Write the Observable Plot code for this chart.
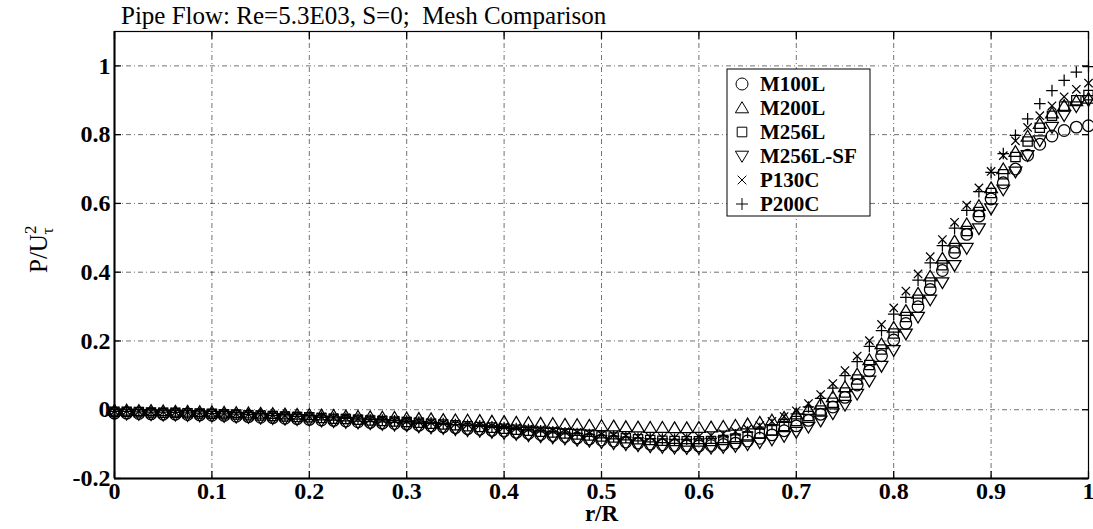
<!DOCTYPE html>
<html><head><meta charset="utf-8">
<script src="https://cdn.jsdelivr.net/npm/d3@7"></script>
<script src="https://cdn.jsdelivr.net/npm/@observablehq/plot@0.6"></script>
<style>body{margin:0;background:#fff;} #chart svg{display:block;background:#fff}</style>
</head><body><div id="chart"></div>
<script>
const titleText = "Pipe Flow: Re=5.3E03, S=0;\u00a0 Mesh Comparison";
const xLabel = "r/R";
const seriesNames = ["M100L", "M200L", "M256L", "M256L-SF", "P130C", "P200C"];
const xTicks = [0, 0.1, 0.2, 0.3, 0.4, 0.5, 0.6, 0.7, 0.8, 0.9, 1];
const xTickLabels = ["0", "0.1", "0.2", "0.3", "0.4", "0.5", "0.6", "0.7", "0.8", "0.9", "1"];
const yTicks = [-0.2, 0, 0.2, 0.4, 0.6, 0.8, 1];
const yTickLabels = ["-0.2", "0", "0.2", "0.4", "0.6", "0.8", "1"];

const r = [0,0.0125,0.025,0.0375,0.05,0.0625,0.075,0.0875,0.1,0.1125,0.125,0.1375,0.15,0.1625,0.175,0.1875,0.2,0.2125,0.225,0.2375,0.25,0.2625,0.275,0.2875,0.3,0.3125,0.325,0.3375,0.35,0.3625,0.375,0.3875,0.4,0.4125,0.425,0.4375,0.45,0.4625,0.475,0.4875,0.5,0.5125,0.525,0.5375,0.55,0.5625,0.575,0.5875,0.6,0.6125,0.625,0.6375,0.65,0.6625,0.675,0.6875,0.7,0.7125,0.725,0.7375,0.75,0.7625,0.775,0.7875,0.8,0.8125,0.825,0.8375,0.85,0.8625,0.875,0.8875,0.9,0.9125,0.925,0.9375,0.95,0.9625,0.975,0.9875,1];

const M100L = [-0.010,-0.010,-0.011,-0.012,-0.013,-0.013,-0.014,-0.015,-0.016,-0.017,-0.019,-0.020,-0.022,-0.023,-0.025,-0.026,-0.028,-0.030,-0.031,-0.033,-0.035,-0.037,-0.039,-0.040,-0.042,-0.045,-0.047,-0.050,-0.052,-0.055,-0.057,-0.060,-0.062,-0.066,-0.069,-0.072,-0.075,-0.078,-0.082,-0.085,-0.088,-0.091,-0.094,-0.097,-0.100,-0.102,-0.104,-0.105,
 -0.105,-0.104,-0.101,-0.097,-0.091,-0.083,-0.073,-0.061,-0.047,-0.031,-0.013,0.008,0.036,0.072,0.113,0.157,0.203,0.251,0.300,0.350,0.405,0.457,0.510,0.563,0.613,0.660,0.700,0.740,0.772,0.796,0.812,0.822,0.826];
const M200L = [-0.002,-0.002,-0.003,-0.003,-0.004,-0.005,-0.005,-0.006,-0.007,-0.008,-0.009,-0.010,-0.011,-0.012,-0.013,-0.014,-0.015,-0.016,-0.017,-0.019,-0.020,-0.021,-0.022,-0.023,-0.025,-0.026,-0.027,-0.029,-0.030,-0.031,-0.032,-0.034,-0.035,-0.037,-0.038,-0.040,-0.041,-0.043,-0.044,-0.046,-0.047,-0.048,-0.050,-0.051,-0.052,-0.052,-0.053,-0.053,
 -0.052,-0.051,-0.049,-0.046,-0.042,-0.037,-0.031,-0.023,-0.013,0.000,0.016,0.037,0.066,0.103,0.145,0.191,0.239,0.288,0.338,0.388,0.440,0.490,0.540,0.593,0.645,0.700,0.750,0.795,0.832,0.862,0.884,0.898,0.905];
const M256L = [-0.006,-0.006,-0.007,-0.008,-0.009,-0.009,-0.010,-0.011,-0.012,-0.013,-0.014,-0.016,-0.017,-0.018,-0.020,-0.021,-0.022,-0.024,-0.026,-0.027,-0.029,-0.031,-0.033,-0.034,-0.036,-0.038,-0.041,-0.043,-0.045,-0.048,-0.050,-0.052,-0.055,-0.058,-0.061,-0.064,-0.066,-0.069,-0.072,-0.075,-0.078,-0.081,-0.083,-0.086,-0.088,-0.090,-0.091,-0.092,
 -0.092,-0.091,-0.088,-0.084,-0.078,-0.070,-0.060,-0.047,-0.033,-0.018,-0.002,0.020,0.050,0.088,0.130,0.175,0.222,0.270,0.320,0.370,0.420,0.470,0.520,0.575,0.630,0.685,0.735,0.780,0.820,0.855,0.882,0.900,0.915];
const M256LSF = [-0.012,-0.012,-0.013,-0.014,-0.015,-0.015,-0.016,-0.017,-0.018,-0.019,-0.021,-0.022,-0.024,-0.025,-0.027,-0.028,-0.030,-0.032,-0.034,-0.036,-0.038,-0.040,-0.042,-0.044,-0.046,-0.049,-0.052,-0.054,-0.057,-0.060,-0.062,-0.065,-0.068,-0.071,-0.075,-0.078,-0.081,-0.084,-0.088,-0.091,-0.095,-0.098,-0.101,-0.104,-0.107,-0.109,-0.111,-0.112,
 -0.112,-0.111,-0.109,-0.106,-0.101,-0.095,-0.087,-0.077,-0.065,-0.050,-0.032,-0.011,0.014,0.046,0.084,0.127,0.173,0.221,0.270,0.320,0.370,0.420,0.470,0.527,0.585,0.640,0.692,0.740,0.783,0.822,0.856,0.882,0.900];
const P130C = [-0.004,-0.004,-0.005,-0.006,-0.006,-0.007,-0.008,-0.009,-0.010,-0.011,-0.012,-0.013,-0.014,-0.016,-0.017,-0.018,-0.020,-0.021,-0.023,-0.024,-0.026,-0.027,-0.029,-0.031,-0.033,-0.035,-0.037,-0.039,-0.041,-0.043,-0.045,-0.048,-0.050,-0.053,-0.056,-0.058,-0.061,-0.064,-0.066,-0.069,-0.072,-0.074,-0.076,-0.078,-0.080,-0.081,-0.081,-0.080,
 -0.078,-0.075,-0.070,-0.064,-0.056,-0.046,-0.034,-0.020,-0.003,0.018,0.044,0.076,0.114,0.156,0.201,0.248,0.296,0.345,0.395,0.445,0.495,0.545,0.595,0.645,0.693,0.739,0.782,0.821,0.855,0.884,0.910,0.932,0.950];
const P200C = [-0.005,-0.005,-0.006,-0.007,-0.007,-0.008,-0.009,-0.010,-0.011,-0.012,-0.013,-0.014,-0.015,-0.017,-0.018,-0.019,-0.021,-0.022,-0.024,-0.025,-0.027,-0.029,-0.030,-0.032,-0.034,-0.036,-0.038,-0.040,-0.043,-0.045,-0.047,-0.050,-0.052,-0.055,-0.058,-0.061,-0.064,-0.067,-0.069,-0.072,-0.075,-0.077,-0.080,-0.082,-0.084,-0.085,-0.086,-0.086,
 -0.085,-0.083,-0.079,-0.073,-0.065,-0.055,-0.043,-0.028,-0.012,0.008,0.033,0.063,0.099,0.140,0.184,0.230,0.278,0.327,0.377,0.427,0.477,0.528,0.580,0.634,0.690,0.745,0.798,0.846,0.890,0.928,0.958,0.982,0.998];

const seriesValues = [M100L, M200L, M256L, M256LSF, P130C, P200C];

// open marker shapes (size = pi * r^2 as given by Plot)
const rad = (size) => Math.sqrt(size / Math.PI);
const symCircle = {draw(c, size) { const s = rad(size); c.moveTo(s, 0); c.arc(0, 0, s, 0, 2 * Math.PI); }};
const symTriUp = {draw(c, size) { const s = rad(size); c.moveTo(0, -s * 1.05); c.lineTo(s * 1.1, s * 0.8); c.lineTo(-s * 1.1, s * 0.8); c.closePath(); }};
const symSquare = {draw(c, size) { const s = rad(size) * 0.8; c.moveTo(-s, -s); c.lineTo(s, -s); c.lineTo(s, s); c.lineTo(-s, s); c.closePath(); }};
const symTriDown = {draw(c, size) { const s = rad(size); c.moveTo(0, s * 1.05); c.lineTo(s * 1.1, -s * 0.8); c.lineTo(-s * 1.1, -s * 0.8); c.closePath(); }};
const symTimes = {draw(c, size) { const s = rad(size) * 0.72; c.moveTo(-s, -s); c.lineTo(s, s); c.moveTo(s, -s); c.lineTo(-s, s); }};
const symPlus = {draw(c, size) { const s = rad(size); c.moveTo(-s, 0); c.lineTo(s, 0); c.moveTo(0, -s); c.lineTo(0, s); }};
const seriesSymbols = [symCircle, symTriUp, symSquare, symTriDown, symTimes, symPlus];

const tables = seriesValues.map((vals, k) => r.map((x, i) => ({r: x, v: vals[i], series: seriesNames[k]})));

const FONT = "Liberation Serif, Times New Roman, serif";
const grid = {stroke: "#000", strokeOpacity: 0.7, strokeWidth: 0.8, strokeDasharray: "5,3,1,3"};
const xFmt = (d) => xTickLabels[xTicks.indexOf(d)];
const yFmt = (d) => yTickLabels[yTicks.indexOf(d)];

const svg = Plot.plot({
  width: 1093, height: 529,
  marginTop: 31, marginBottom: 51, marginLeft: 114, marginRight: 5,
  style: {fontFamily: FONT, background: "#fff", color: "#000"},
  x: {domain: [0, 1]},
  y: {domain: [-0.2, 1.1]},
  marks: [
    Plot.gridX({ticks: xTicks, ...grid}),
    Plot.gridY({ticks: yTicks, ...grid}),
    ...tables.map((t, k) => Plot.dot(t, {x: "r", y: "v", symbol: seriesSymbols[k], r: 5.8, stroke: "#000", fill: "none", strokeWidth: 1.25})),
    Plot.frame({stroke: "#000", strokeWidth: 1.2}),
    Plot.ruleX([0], {stroke: "#000", strokeWidth: 2}),
    Plot.ruleY([-0.2], {stroke: "#000", strokeWidth: 2}),
    Plot.axisX({ticks: xTicks, tickSize: -7, tickPadding: 10, tickFormat: xFmt, label: null, fontSize: 24, fontWeight: "bold", fontFamily: FONT, strokeWidth: 1.3}),
    Plot.axisX({anchor: "top", ticks: xTicks, tickSize: -7, tickFormat: () => "", label: null, strokeWidth: 1.3}),
    Plot.axisY({ticks: yTicks, tickSize: -7, tickPadding: 11, tickFormat: yFmt, label: null, fontSize: 24, fontWeight: "bold", fontFamily: FONT, strokeWidth: 1.3}),
    Plot.axisY({anchor: "right", ticks: yTicks, tickSize: -7, tickFormat: () => "", label: null, strokeWidth: 1.3}),
    Plot.text([xLabel], {text: (d) => d, frameAnchor: "bottom", dy: 42, fontSize: 23, fontWeight: "bold", fontFamily: FONT, fill: "#000"})
  ]
});
document.getElementById("chart").appendChild(svg);

const s = d3.select(svg);
// title
s.append("text").attr("x", 121).attr("y", 24).attr("text-anchor", "start").attr("font-family", FONT).attr("font-size", 25).attr("fill", "#000").text(titleText);
// y label P/U_tau^2
const yl = s.append("text").attr("transform", "translate(47,273) rotate(-90)").attr("text-anchor", "start").attr("font-family", FONT).attr("font-size", 25).attr("fill", "#000");
yl.append("tspan").text("P/U");
yl.append("tspan").attr("font-size", 17).attr("dy", -11).text("2");
yl.append("tspan").attr("font-size", 17).attr("dx", -9).attr("dy", 17).text("\u03c4");
// legend
const lg = s.append("g");
lg.append("rect").attr("x", 727).attr("y", 69).attr("width", 143).attr("height", 147).attr("fill", "#fff").attr("stroke", "#000").attr("stroke-width", 1);
seriesNames.forEach((name, k) => {
  const cy = 84 + k * 24;
  lg.append("path").attr("transform", `translate(742,${cy})`).attr("d", d3.symbol(seriesSymbols[k], Math.PI * 6 * 6)()).attr("fill", "none").attr("stroke", "#000").attr("stroke-width", 1);
  lg.append("text").attr("x", 760).attr("y", cy).attr("dy", "0.35em").attr("text-anchor", "start").attr("font-family", FONT).attr("font-size", 21).attr("font-weight", "bold").attr("fill", "#000").text(name);
});
</script>
</body></html>
